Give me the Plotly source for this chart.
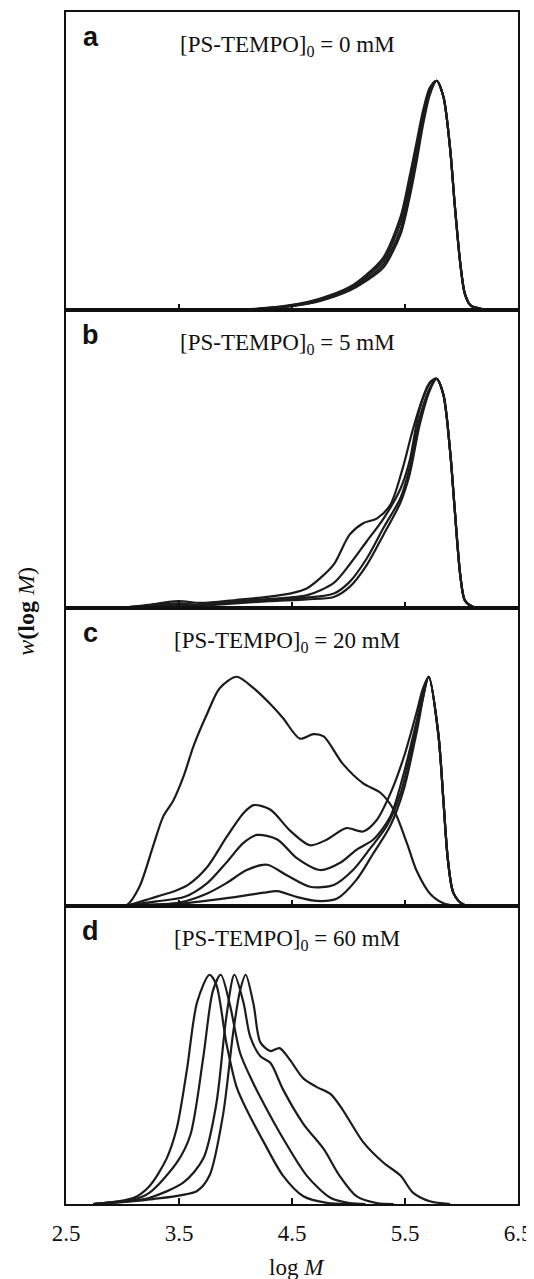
import plotly.graph_objects as go
from plotly.subplots import make_subplots

# ---------------- data (log M, normalized w(log M)) ----------------
tail_a_x = [5.84, 5.90, 5.94, 5.99, 6.03, 6.08, 6.18, 6.35]
tail_a_y = [0.93, 0.70, 0.46, 0.20, 0.07, 0.02, 0.004, 0.0]

a_x = [3.9, 4.2, 4.5, 4.75, 5.01, 5.15, 5.31, 5.46, 5.54, 5.60, 5.66, 5.72, 5.78] + tail_a_x
a1_y = [0, 0.006, 0.022, 0.05, 0.100, 0.150, 0.230, 0.405, 0.58, 0.725, 0.87, 0.970, 1.0] + tail_a_y
a2_y = [0, 0.005, 0.020, 0.045, 0.093, 0.140, 0.215, 0.380, 0.55, 0.700, 0.85, 0.965, 1.0] + tail_a_y
a3_y = [0, 0.004, 0.018, 0.042, 0.088, 0.130, 0.200, 0.350, 0.52, 0.670, 0.83, 0.955, 1.0] + tail_a_y
a4_y = [0, 0.004, 0.017, 0.040, 0.085, 0.125, 0.186, 0.330, 0.49, 0.640, 0.81, 0.940, 1.0] + tail_a_y

tail_b_x = [5.84, 5.90, 5.94, 5.99, 6.03, 6.10, 6.25]
tail_b_y = [0.93, 0.68, 0.43, 0.14, 0.033, 0.005, 0.0]

b1_x = [2.95, 3.04, 3.25, 3.49, 3.70, 4.00, 4.30, 4.50, 4.63, 4.75, 4.87, 5.01, 5.13, 5.25, 5.37, 5.48, 5.57, 5.66, 5.72, 5.78] + tail_b_x
b1_y = [0, 0.003, 0.015, 0.030, 0.022, 0.035, 0.050, 0.065, 0.085, 0.13, 0.19, 0.32, 0.37, 0.39, 0.45, 0.61, 0.78, 0.92, 0.985, 1.0] + tail_b_y
b_x = [2.95, 3.10, 3.49, 3.70, 4.00, 4.30, 4.63, 4.87, 5.01, 5.16, 5.31, 5.46, 5.54, 5.63, 5.72, 5.78] + tail_b_x
b2_y = [0, 0.005, 0.020, 0.015, 0.030, 0.040, 0.055, 0.110, 0.190, 0.290, 0.39, 0.52, 0.64, 0.87, 0.98, 1.0] + tail_b_y
b3_y = [0, 0.004, 0.015, 0.012, 0.025, 0.035, 0.045, 0.063, 0.114, 0.215, 0.35, 0.48, 0.61, 0.83, 0.96, 1.0] + tail_b_y
b4_y = [0, 0.003, 0.012, 0.010, 0.020, 0.030, 0.038, 0.048, 0.092, 0.186, 0.32, 0.46, 0.58, 0.80, 0.95, 1.0] + tail_b_y

tail_c_x = [5.795, 5.84, 5.88, 5.93, 6.02, 6.2]
tail_c_y = [0.75, 0.46, 0.20, 0.055, 0.005, 0.0]

c1_x = [2.95, 3.04, 3.25, 3.45, 3.58, 3.75, 3.92, 4.07, 4.16, 4.31, 4.48, 4.66, 4.81, 4.98, 5.13, 5.25, 5.37, 5.49, 5.60, 5.66, 5.71] + tail_c_x
c1_y = [0, 0.003, 0.033, 0.063, 0.092, 0.17, 0.30, 0.405, 0.44, 0.42, 0.33, 0.265, 0.29, 0.34, 0.325, 0.375, 0.49, 0.65, 0.84, 0.95, 1.0] + tail_c_y
c2_x = [2.95, 3.04, 3.30, 3.55, 3.75, 3.92, 4.07, 4.19, 4.37, 4.54, 4.75, 4.93, 5.07, 5.22, 5.37, 5.49, 5.60, 5.66, 5.71] + tail_c_x
c2_y = [0, 0.003, 0.020, 0.040, 0.10, 0.19, 0.275, 0.31, 0.29, 0.21, 0.157, 0.19, 0.245, 0.29, 0.39, 0.58, 0.80, 0.93, 1.0] + tail_c_y
c3_x = [2.95, 3.04, 3.50, 3.75, 3.92, 4.10, 4.28, 4.45, 4.66, 4.87, 5.04, 5.19, 5.34, 5.46, 5.57, 5.66, 5.71] + tail_c_x
c3_y = [0, 0.002, 0.015, 0.055, 0.10, 0.157, 0.18, 0.135, 0.084, 0.092, 0.157, 0.25, 0.35, 0.49, 0.71, 0.91, 1.0] + tail_c_y
c4_x = [2.95, 3.04, 3.50, 4.01, 4.25, 4.37, 4.54, 4.72, 4.90, 5.07, 5.22, 5.37, 5.49, 5.60, 5.71] + tail_c_x
c4_y = [0, 0.002, 0.010, 0.040, 0.058, 0.065, 0.040, 0.022, 0.033, 0.114, 0.23, 0.35, 0.51, 0.75, 1.0] + tail_c_y
c5_x = [2.95, 3.04, 3.15, 3.27, 3.36, 3.45, 3.54, 3.63, 3.75, 3.86, 4.01, 4.16, 4.31, 4.42, 4.57, 4.69, 4.78, 4.95, 5.13, 5.28, 5.40, 5.52, 5.60, 5.72, 5.84, 5.95]
c5_y = [0, 0.005, 0.084, 0.26, 0.39, 0.46, 0.565, 0.70, 0.84, 0.95, 1.0, 0.95, 0.88, 0.82, 0.73, 0.75, 0.74, 0.62, 0.535, 0.495, 0.42, 0.27, 0.157, 0.055, 0.012, 0]

d1_x = [2.74, 3.10, 3.24, 3.39, 3.48, 3.57, 3.66, 3.77, 3.83, 3.92, 4.01, 4.10, 4.25, 4.42, 4.60, 4.81, 5.0]
d1_y = [0, 0.027, 0.079, 0.198, 0.33, 0.585, 0.88, 1.0, 0.957, 0.70, 0.51, 0.41, 0.27, 0.124, 0.034, 0.005, 0]
d2_x = [2.74, 3.10, 3.24, 3.48, 3.60, 3.715, 3.80, 3.87, 3.95, 4.04, 4.13, 4.22, 4.42, 4.63, 4.84, 5.01, 5.15]
d2_y = [0, 0.02, 0.05, 0.18, 0.30, 0.64, 0.93, 1.0, 0.87, 0.66, 0.555, 0.466, 0.287, 0.124, 0.027, 0.004, 0]
d3_x = [2.74, 3.10, 3.24, 3.54, 3.715, 3.83, 3.92, 3.99, 4.07, 4.13, 4.22, 4.31, 4.42, 4.60, 4.78, 4.92, 5.07, 5.25, 5.40]
d3_y = [0, 0.015, 0.027, 0.094, 0.198, 0.436, 0.82, 1.0, 0.88, 0.73, 0.645, 0.615, 0.50, 0.35, 0.24, 0.124, 0.034, 0.004, 0]
d4_x = [2.74, 3.10, 3.24, 3.66, 3.77, 3.89, 3.98, 4.04, 4.09, 4.16, 4.22, 4.31, 4.39, 4.48, 4.60, 4.72, 4.84, 4.95, 5.13, 5.31, 5.46, 5.57, 5.72, 5.90]
d4_y = [0, 0.012, 0.02, 0.057, 0.124, 0.39, 0.75, 0.93, 1.0, 0.87, 0.705, 0.667, 0.68, 0.63, 0.548, 0.51, 0.48, 0.41, 0.27, 0.18, 0.124, 0.05, 0.012, 0]

panels = [
    ("a", "[PS-TEMPO]<sub>0</sub> = 0 mM",
     [(a_x, a1_y), (a_x, a2_y), (a_x, a3_y), (a_x, a4_y)]),
    ("b", "[PS-TEMPO]<sub>0</sub> = 5 mM",
     [(b1_x, b1_y), (b_x, b2_y), (b_x, b3_y), (b_x, b4_y)]),
    ("c", "[PS-TEMPO]<sub>0</sub> = 20 mM",
     [(c1_x, c1_y), (c2_x, c2_y), (c3_x, c3_y), (c4_x, c4_y), (c5_x, c5_y)]),
    ("d", "[PS-TEMPO]<sub>0</sub> = 60 mM",
     [(d1_x, d1_y), (d2_x, d2_y), (d3_x, d3_y), (d4_x, d4_y)]),
]

x_ticks = [2.5, 3.5, 4.5, 5.5, 6.5]
x_tick_labels = ["2.5", "3.5", "4.5", "5.5", "6.5"]

# ---------------- figure ----------------
SERIF = "Liberation Serif, Times New Roman, serif"
LINE = "#1c1c1c"

fig = make_subplots(rows=4, cols=1, vertical_spacing=0)

for i, (letter, title, curves) in enumerate(panels, start=1):
    for xs, ys in curves:
        fig.add_trace(go.Scatter(x=xs, y=ys, mode="lines",
                                 line=dict(color=LINE, width=2.2, shape="spline", smoothing=0.8),
                                 showlegend=False, hoverinfo="skip"),
                      row=i, col=1)
    last = (i == 4)
    fig.update_xaxes(range=[2.5, 6.5], showline=True, mirror=True, linecolor="#111",
                     linewidth=2, showgrid=False, zeroline=False,
                     ticks="inside", ticklen=6, tickwidth=1.5, tickcolor="#111",
                     tickvals=x_ticks if last else [3.5, 4.5, 5.5],
                     ticktext=x_tick_labels if last else None,
                     showticklabels=last,
                     ticklabelstandoff=7 if last else 0,
                     tickfont=dict(family=SERIF, size=23, color="#111"),
                     row=i, col=1)
    fig.update_yaxes(range=[0, 1.3], showline=True, mirror=True, linecolor="#111",
                     linewidth=2, showgrid=False, zeroline=False,
                     showticklabels=False, ticks="", row=i, col=1)
    xd = "x domain" if i == 1 else f"x{i} domain"
    yd = "y domain" if i == 1 else f"y{i} domain"
    fig.add_annotation(xref=xd, yref=yd, x=0.055, y=0.915, text=f"<b>{letter}</b>",
                       showarrow=False, xanchor="center", yanchor="middle",
                       font=dict(family="Liberation Sans, Arial, sans-serif", size=27, color="#111"))
    fig.add_annotation(xref=xd, yref=yd, x=0.49, y=0.885, text=title,
                       showarrow=False, xanchor="center", yanchor="middle",
                       font=dict(family=SERIF, size=23, color="#111"))

fig.add_annotation(xref="paper", yref="paper", x=-0.0905, y=0.497,
                   text="<i>w</i><b>(log</b> <i>M</i>)", textangle=-90,
                   showarrow=False, xanchor="center", yanchor="middle",
                   font=dict(family=SERIF, size=24, color="#111"))
fig.add_annotation(xref="paper", yref="paper", x=0.51, y=-0.0536,
                   text="log <i>M</i>", showarrow=False,
                   xanchor="center", yanchor="middle",
                   font=dict(family=SERIF, size=23, color="#111"))

# page body has an 8px default margin: size/margins compensate so the plot box
# lands at the same screen position as the reference
fig.update_layout(width=526, height=1271,
                  margin=dict(l=58, r=15, t=2, b=75),
                  paper_bgcolor="white", plot_bgcolor="white")

fig.write_html("out.html")
